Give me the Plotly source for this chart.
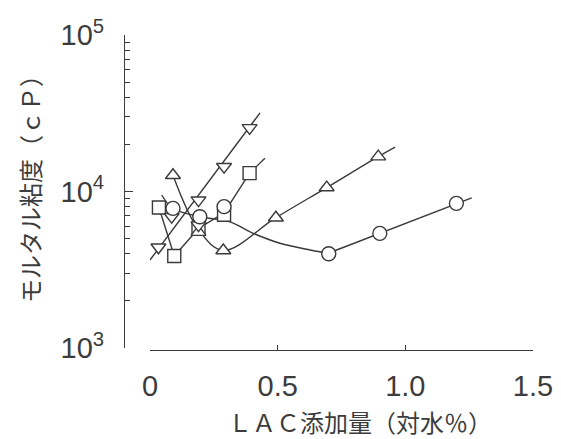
import plotly.graph_objects as go

# ---- data ----
circ_x = [0.09, 0.195, 0.29, 0.70, 0.90, 1.20]
circ_y = [7800, 6900, 8000, 4000, 5400, 8400]

tri_up_x = [0.09, 0.19, 0.287, 0.493, 0.692, 0.894]
tri_up_y = [12700, 5500, 4200, 6800, 10600, 16700]

tri_dn_x = [0.033, 0.085, 0.19, 0.19, 0.29, 0.39]
tri_dn_y = [4400, 6900, 8800, 6100, 14400, 25500]

sq_x = [0.035, 0.095, 0.19, 0.29, 0.39]
sq_y = [7900, 3870, 5800, 7100, 13100]

filled_x = [-0.013]
filled_y = [11000]

# fitted / connecting lines
circ_fit_x = [0.046, 0.089, 0.196, 0.313, 0.405, 0.509, 0.627, 0.698]
circ_fit_y = [9500, 7800, 6900, 6400, 5400, 4670, 4230, 4030]
circ_line_x = [0.698, 0.90, 1.20, 1.26]
circ_line_y = [4030, 5400, 8400, 9100]

tri_up_fit_x = [0.09, 0.19, 0.287, 0.493, 0.692, 0.894, 0.96]
tri_up_fit_y = [12700, 5700, 4200, 6800, 10600, 16700, 19200]

tri_dn_fit_x = [0.0, 0.431]
tri_dn_fit_y = [3650, 31800]

sq_fit_x = [0.035, 0.095, 0.19, 0.29, 0.39, 0.45]
sq_fit_y = [7900, 3870, 5800, 7300, 13100, 16300]

y_tickvals = [1e3, 1e4, 1e5]
y_ticktext = ["10<sup>3</sup>", "10<sup>4</sup>", "10<sup>5</sup>"]
y_minor = [m * 10 ** e for e in (3, 4) for m in range(2, 10)]
x_tickvals = [0, 0.5, 1.0, 1.5]
x_ticktext = ["0", "0.5", "1.0", "1.5"]

LINE = "#3a3a3a"
TXT = "#3c3c3c"
FONT = "Liberation Sans, Arial, sans-serif"
CJK = "Noto Sans CJK JP, sans-serif"

fig = go.Figure()

def line(x, y, shape="linear"):
    fig.add_trace(go.Scatter(x=x, y=y, mode="lines",
                             line=dict(color=LINE, width=1.4, shape=shape, smoothing=1.0),
                             hoverinfo="skip", showlegend=False))

line(tri_dn_fit_x, tri_dn_fit_y)
line(sq_fit_x, sq_fit_y)
line(tri_up_fit_x, tri_up_fit_y, "spline")
line(circ_fit_x, circ_fit_y, "spline")
line(circ_line_x, circ_line_y)

def markers(x, y, symbol, size, fill="white"):
    fig.add_trace(go.Scatter(x=x, y=y, mode="markers", cliponaxis=False,
                             marker=dict(symbol=symbol, size=size, color=fill,
                                         line=dict(color=LINE, width=1.4)),
                             showlegend=False))

markers(sq_x, sq_y, "square", 13)
markers(tri_up_x, tri_up_y, "triangle-up", 13)
markers(tri_dn_x, tri_dn_y, "triangle-down", 13)
markers(circ_x, circ_y, "circle", 14)
markers(filled_x, filled_y, "circle", 12, fill="#333333")

W, H = 561, 439
L, R, T, B = 124, 28, 35, 89
pw = W - L - R
ph = H - T - B

fig.update_layout(
    width=W, height=H,
    margin=dict(l=L, r=R, t=T, b=B, autoexpand=False),
    paper_bgcolor="white", plot_bgcolor="white",
    font=dict(family=FONT, color=TXT),
    xaxis=dict(
        domain=[(150 - L) / pw, 1.0], range=[0, 1.5],
        anchor="free", position=0,
        showline=True, linecolor=LINE, linewidth=1.2,
        showgrid=False, zeroline=False,
        tickmode="array", tickvals=x_tickvals, ticktext=x_ticktext,
        ticks="inside", ticklen=5, tickcolor=LINE, tickwidth=1.2,
        tickfont=dict(size=29, family=FONT, color=TXT),
        ticklabelstandoff=10,
    ),
    yaxis=dict(
        type="log", range=[3, 5],
        domain=[(350 - 348) / ph, 1.0],
        anchor="free", position=0,
        showline=True, linecolor=LINE, linewidth=1.2,
        showgrid=False, zeroline=False,
        tickmode="array", tickvals=y_tickvals, ticktext=y_ticktext,
        ticks="inside", ticklen=8, tickcolor=LINE, tickwidth=1.2,
        tickfont=dict(size=29, family=FONT, color=TXT),
        ticklabelstandoff=14,
        minor=dict(tickmode="array", tickvals=y_minor, ticks="inside",
                   ticklen=5, tickcolor=LINE, tickwidth=1.1),
    ),
    annotations=[
        dict(text="ＬＡＣ添加量（対水％）", xref="paper", yref="paper",
             x=(360 - L) / pw, y=-(421 - (T + ph)) / ph,
             xanchor="center", yanchor="middle", showarrow=False,
             font=dict(size=24, family=CJK, color=TXT)),
        dict(text="モルタル粘度（ｃＰ）", xref="paper", yref="paper",
             x=-(L - 29) / pw, y=1 - (183 - T) / ph, textangle=-90,
             xanchor="center", yanchor="middle", showarrow=False,
             font=dict(size=24, family=CJK, color=TXT)),
    ],
)

fig.write_html("out.html",
               config={"displayModeBar": False},
               post_script="document.body.style.margin='0';document.body.style.padding='0';")
